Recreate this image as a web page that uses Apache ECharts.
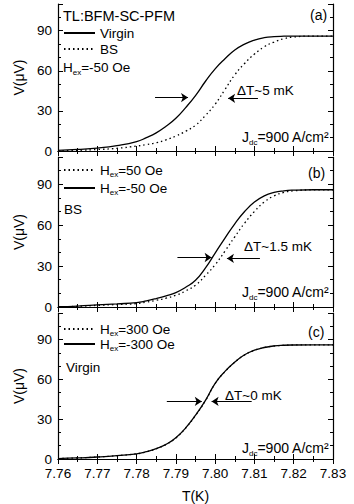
<!DOCTYPE html>
<html>
<head>
<meta charset="utf-8">
<script src="https://cdn.jsdelivr.net/npm/echarts@6/dist/echarts.min.js"></script>
<style>
  html, body { margin: 0; padding: 0; background: #fff; }
  #main { width: 354px; height: 504px; }
</style>
</head>
<body>
<div id="main"></div>
<script>
// temperature grid (K), shared by all panels
var temps = [7.76, 7.765, 7.77, 7.775, 7.78, 7.7825, 7.785, 7.7875, 7.79, 7.7925, 7.795, 7.7975,
             7.80, 7.8025, 7.805, 7.8075, 7.81, 7.8125, 7.815, 7.8175, 7.82, 7.825, 7.83];

// (a) H_ex = -50 Oe
var virginA = [0.5, 1.2, 2.2, 4, 7, 10, 13.6, 18.5, 24.5, 32.5, 41.5, 52, 61.5, 69, 75.5, 80, 83, 84.8, 85.6, 85.9, 86, 86, 86];
var bsA     = [0, 0.5, 1.1, 2, 3.7, 4.8, 6.2, 8.3, 11.2, 14.8, 19.3, 26.5, 35, 46, 57, 65.5, 72.5, 78, 81.5, 84, 85.3, 86, 86];
// (b) BS
var plus50B  = [0.1, 0.5, 1.2, 1.8, 2.5, 3.6, 4.9, 6.5, 8.6, 11.8, 16, 23, 31, 41, 51.5, 61.5, 70, 77, 81.5, 84, 85.2, 85.9, 86];
var minus50B = [0.2, 0.7, 1.5, 2.3, 3.2, 4.5, 6.2, 8.2, 10.6, 14.5, 19.6, 28.5, 39.5, 50.5, 61, 70, 77, 81.5, 84, 85.2, 85.7, 86, 86];
// (c) Virgin
var plus300C  = [0.3, 0.8, 1.5, 2.5, 3.9, 5.4, 7.7, 10.9, 15.8, 23.3, 32.8, 43.8, 56.8, 65.8, 72.9, 78.4, 81.9, 84, 85.1, 85.6, 85.9, 86, 86];
var minus300C = [0.3, 0.8, 1.5, 2.5, 3.9, 5.5, 7.8, 11, 16, 23.5, 33, 44, 57, 66, 73, 78.5, 82, 84, 85.2, 85.7, 85.9, 86, 86];

// arrows [T start, T end, V]
var arrowsA = [[7.7847, 7.7931, 40], [7.8109, 7.8033, 39.4]];
var arrowsB = [[7.7904, 7.7991, 36.3], [7.8114, 7.8030, 35.6]];
var arrowsC = [[7.7877, 7.7966, 43.4], [7.8093, 7.7991, 43.4]];

var yTicks = [0, 30, 60, 90];

var FONT = '"Liberation Sans", Arial, sans-serif';

function rich(size, subLine) {
    return {
        n: { fontSize: size, lineHeight: 14, fontFamily: FONT, color: '#000' },
        s: { fontSize: 8, lineHeight: subLine, verticalAlign: 'bottom', fontFamily: FONT, color: '#000' }
    };
}

function pts(ys) {
    return temps.map(function(t, i) { return [t, ys[i]]; });
}

function arrowLines(list) {
    return list.map(function(a) {
        return [{ coord: [a[0], a[2]] }, { coord: [a[1], a[2]] }];
    });
}

var grids = [
    { left: 58, right: 21, top: 4, height: 147 },
    { left: 58, right: 21, top: 157, height: 150 },
    { left: 58, right: 21, top: 313, height: 150 }
];

var xAxes = [], yAxes = [];
for (var g = 0; g < 3; g++) {
    ['bottom', 'top'].forEach(function(pos) {
        xAxes.push({
            gridIndex: g, type: 'value', position: pos,
            min: 7.76, max: 7.83, interval: 0.01,
            axisLine: { lineStyle: { color: '#000', width: 1.2 } },
            axisTick: { inside: true, length: 5, lineStyle: { color: '#000' } },
            minorTick: { show: true, splitNumber: 2, length: 3, lineStyle: { color: '#000' } },
            splitLine: { show: false },
            axisLabel: {
                show: g == 2 && pos == 'bottom', margin: 7,
                fontSize: 13.5, fontFamily: FONT, color: '#000',
                formatter: function(v) { return v.toFixed(2); }
            },
            name: g == 2 && pos == 'bottom' ? 'T(K)' : '',
            nameLocation: 'middle', nameGap: 30,
            nameTextStyle: { fontSize: 14, fontFamily: FONT, color: '#000' }
        });
    });
    ['left', 'right'].forEach(function(pos) {
        // major ticks + labels
        yAxes.push({
            gridIndex: g, type: 'value', position: pos,
            min: 0, max: 110, interval: 30,
            axisLine: { show: true, lineStyle: { color: '#000', width: 1.2 } },
            axisTick: { inside: true, length: 5, lineStyle: { color: '#000' } },
            splitLine: { show: false },
            axisLabel: {
                show: pos == 'left', margin: 6,
                fontSize: 13.5, fontFamily: FONT, color: '#000',
                formatter: function(v) { return yTicks.indexOf(v) >= 0 ? String(v) : ''; }
            },
            name: pos == 'left' ? 'V(\u03bcV)' : '',
            nameLocation: 'middle', nameGap: 30,
            nameTextStyle: { fontSize: 14, fontFamily: FONT, color: '#000' }
        });
        // minor ticks
        yAxes.push({
            gridIndex: g, type: 'value', position: pos,
            min: 0, max: 110, interval: 10,
            axisLine: { show: false },
            axisTick: { inside: true, length: 3, lineStyle: { color: '#000' } },
            splitLine: { show: false },
            axisLabel: { show: false }
        });
    });
}

function lineSeries(name, g, ys, dotted, arrows) {
    var s = {
        name: name, type: 'line',
        xAxisIndex: 2 * g, yAxisIndex: 4 * g,
        data: pts(ys), smooth: true,
        symbol: 'none', showSymbol: false,
        lineStyle: { color: '#000', width: 1.3, type: dotted ? [1.5, 3] : 'solid' },
        itemStyle: { color: '#000' }
    };
    if (arrows) {
        s.markLine = {
            silent: true, symbol: ['none', 'arrow'], symbolSize: 7,
            label: { show: false },
            lineStyle: { color: '#000', width: 1, type: 'solid' },
            data: arrowLines(arrows)
        };
    }
    return s;
}

var legendNames = {
    'Hex=50': '{n|H}{s|ex}{n|=50 Oe}',
    'Hex=-50': '{n|H}{s|ex}{n|=-50 Oe}',
    'Hex=300': '{n|H}{s|ex}{n|=300 Oe}',
    'Hex=-300': '{n|H}{s|ex}{n|=-300 Oe}'
};

function legend(names, top, gap) {
    return {
        data: names, orient: 'vertical', left: 63, top: top, padding: 0,
        itemWidth: 31, itemHeight: 14, itemGap: gap,
        selectedMode: false,
        itemStyle: { color: 'rgba(0,0,0,0)', borderWidth: 0, opacity: 0 },
        textStyle: { fontSize: 13.5, fontFamily: FONT, color: '#000', rich: rich(13.5, 16) },
        formatter: function(n) { return legendNames[n] || n; }
    };
}

function txt(x, y, text, size) {
    return {
        type: 'text', x: x, y: y, silent: true,
        style: {
            text: text, fill: '#000', fontSize: size || 13.5, fontFamily: FONT,
            verticalAlign: 'middle', align: 'left', rich: rich(size || 13.5, 19)
        }
    };
}

var myChart = echarts.init(document.getElementById('main'), null, { renderer: 'svg' });
var option = {
    backgroundColor: '#fff',
    animation: false,
    grid: grids,
    xAxis: xAxes,
    yAxis: yAxes,
    legend: [
        legend(['Virgin', 'BS'], 26, 2),
        legend(['Hex=50', 'Hex=-50'], 163, 3),
        legend(['Hex=300', 'Hex=-300'], 322, 0)
    ],
    series: [
        lineSeries('Virgin', 0, virginA, false, arrowsA),
        lineSeries('BS', 0, bsA, true),
        lineSeries('Hex=50', 1, plus50B, true),
        lineSeries('Hex=-50', 1, minus50B, false, arrowsB),
        lineSeries('Hex=300', 2, plus300C, true),
        lineSeries('Hex=-300', 2, minus300C, false, arrowsC)
    ],
    graphic: [
        txt(63, 16, 'TL:BFM-SC-PFM', 14.5),
        txt(63, 67, '{n|H}{s|ex}{n|=-50 Oe}'),
        txt(310, 15, '(a)', 14),
        txt(237, 90, '\u0394T~5 mK'),
        txt(242, 137, '{n|J}{s|dc}{n|=900 A/cm\u00b2}', 14),

        txt(64, 209, 'BS'),
        txt(308, 173, '(b)', 14),
        txt(244, 246, '\u0394T~1.5 mK'),
        txt(242, 292, '{n|J}{s|dc}{n|=900 A/cm\u00b2}', 14),

        txt(66, 367, 'Virgin'),
        txt(308, 332, '(c)', 14),
        txt(225, 395, '\u0394T~0 mK'),
        txt(242, 448, '{n|J}{s|dc}{n|=900 A/cm\u00b2}', 14)
    ]
};
myChart.setOption(option);
</script>
</body>
</html>
